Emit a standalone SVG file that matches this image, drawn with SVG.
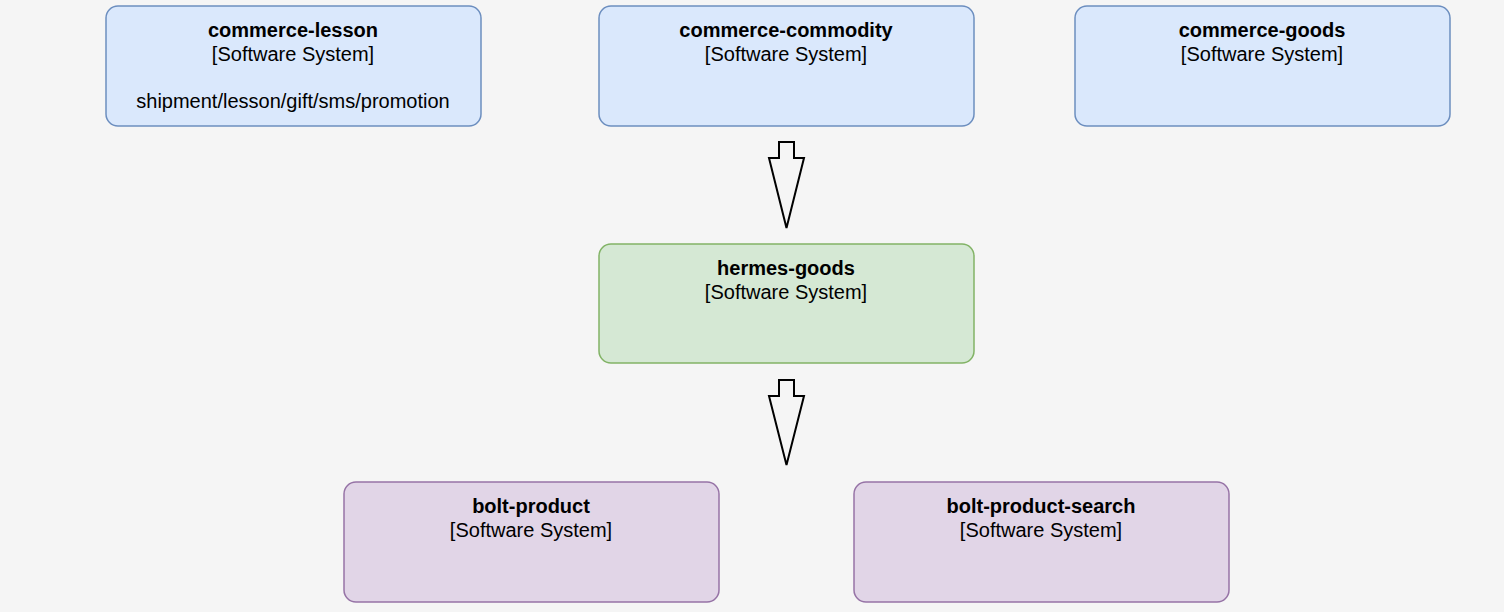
<svg xmlns="http://www.w3.org/2000/svg" width="1504" height="612" viewBox="0 0 1504 612">
<style>
.bg{fill:#f5f5f5}
.blue{fill:#dae8fc;stroke:#6c8ebf;stroke-width:1.5}
.green{fill:#d5e8d4;stroke:#82b366;stroke-width:1.5}
.purple{fill:#e1d5e7;stroke:#9673a6;stroke-width:1.5}
text{font-family:"Liberation Sans",Arial,sans-serif;font-size:20px;fill:#000;text-anchor:middle}
.t{font-weight:bold}
.arrow{fill:#f5f5f5;stroke:#000;stroke-width:2;stroke-linejoin:miter}
</style>
<rect class="bg" x="0" y="0" width="1504" height="612"/>
<g id="commerce-lesson">
<rect class="blue" x="106" y="6" width="375" height="120" rx="12"/>
<text class="t" x="293" y="37">commerce-lesson</text>
<text x="293" y="61">[Software System]</text>
<text x="293" y="108">shipment/lesson/gift/sms/promotion</text>
</g>
<g id="commerce-commodity">
<rect class="blue" x="599" y="6" width="375" height="120" rx="12"/>
<text class="t" x="786" y="37">commerce-commodity</text>
<text x="786" y="61">[Software System]</text>
</g>
<g id="commerce-goods">
<rect class="blue" x="1075" y="6" width="375" height="120" rx="12"/>
<text class="t" x="1262" y="37">commerce-goods</text>
<text x="1262" y="61">[Software System]</text>
</g>
<g id="hermes-goods">
<rect class="green" x="599" y="244" width="375" height="119" rx="12"/>
<text class="t" x="786" y="275">hermes-goods</text>
<text x="786" y="299">[Software System]</text>
</g>
<g id="bolt-product">
<rect class="purple" x="344" y="482" width="375" height="120" rx="12"/>
<text class="t" x="531" y="513">bolt-product</text>
<text x="531" y="537">[Software System]</text>
</g>
<g id="bolt-product-search">
<rect class="purple" x="854" y="482" width="375" height="120" rx="12"/>
<text class="t" x="1041" y="513">bolt-product-search</text>
<text x="1041" y="537">[Software System]</text>
</g>
<g id="connectors">
<path class="arrow" d="M779,142 L794,142 L794,158 L804,158 L786.5,228 L769,158 L779,158 Z"/>
<path class="arrow" d="M779,380 L794,380 L794,396 L804,396 L786.5,465 L769,396 L779,396 Z"/>
</g>
</svg>
